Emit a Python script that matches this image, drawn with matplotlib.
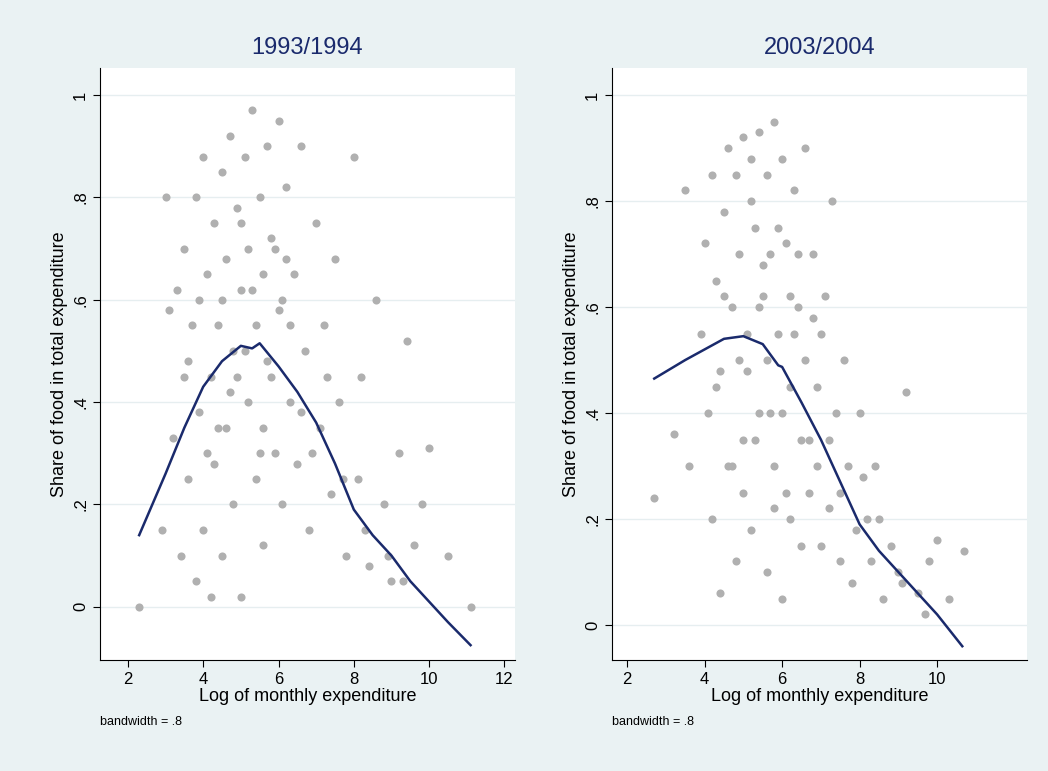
import matplotlib.pyplot as plt

plt.rcParams["font.family"] = ["Liberation Sans", "DejaVu Sans"]

# scatter points read by eye (representative sample of the cloud)
x93 = [2.3, 2.9, 3.0, 3.1, 3.2, 3.3, 3.4, 3.5, 3.5, 3.6, 3.7, 3.8, 3.8, 3.9, 4.0, 4.0, 4.1, 4.2, 4.2, 4.3,
       4.3, 4.4, 4.5, 4.5, 4.6, 4.6, 4.7, 4.8, 4.8, 4.9, 5.0, 5.0, 5.1, 5.2, 5.2, 5.3, 5.4, 5.4, 5.5, 5.6,
       5.6, 5.7, 5.8, 5.8, 5.9, 6.0, 6.0, 6.1, 6.2, 6.3, 6.4, 6.5, 6.6, 6.7, 6.8, 7.0, 7.1, 7.2, 7.4, 7.5,
       7.6, 7.8, 8.0, 8.1, 8.2, 8.4, 8.6, 8.8, 9.0, 9.2, 9.4, 9.6, 9.8, 10.0, 10.5, 11.1, 3.9, 4.4, 5.1, 5.7,
       6.3, 4.7, 5.3, 6.6, 7.3, 4.1, 5.5, 6.1, 3.6, 4.9, 5.9, 6.9, 7.7, 8.3, 8.9, 9.3, 4.5, 5.0, 5.6, 6.2]
y93 = [0.0, 0.15, 0.8, 0.58, 0.33, 0.62, 0.10, 0.45, 0.70, 0.25, 0.55, 0.80, 0.05, 0.38, 0.88, 0.15, 0.65, 0.45, 0.02, 0.75,
       0.28, 0.55, 0.85, 0.10, 0.68, 0.35, 0.92, 0.50, 0.20, 0.78, 0.62, 0.02, 0.88, 0.40, 0.70, 0.97, 0.55, 0.25, 0.80, 0.65,
       0.12, 0.90, 0.45, 0.72, 0.30, 0.95, 0.58, 0.20, 0.82, 0.40, 0.65, 0.28, 0.90, 0.50, 0.15, 0.75, 0.35, 0.55, 0.22, 0.68,
       0.40, 0.10, 0.88, 0.25, 0.45, 0.08, 0.60, 0.20, 0.05, 0.30, 0.52, 0.12, 0.20, 0.31, 0.10, 0.0, 0.60, 0.35, 0.50, 0.48,
       0.55, 0.42, 0.62, 0.38, 0.45, 0.30, 0.30, 0.60, 0.48, 0.45, 0.70, 0.30, 0.25, 0.15, 0.10, 0.05, 0.60, 0.75, 0.35, 0.68]
x04 = [2.7, 3.2, 3.5, 3.6, 3.9, 4.0, 4.1, 4.2, 4.2, 4.3, 4.4, 4.4, 4.5, 4.6, 4.6, 4.7, 4.8, 4.8, 4.9, 5.0,
       5.0, 5.1, 5.2, 5.2, 5.3, 5.4, 5.4, 5.5, 5.6, 5.6, 5.7, 5.8, 5.8, 5.9, 6.0, 6.0, 6.1, 6.2, 6.2, 6.3,
       6.4, 6.5, 6.6, 6.7, 6.8, 6.9, 7.0, 7.1, 7.2, 7.3, 7.5, 7.6, 7.8, 8.0, 8.2, 8.4, 8.6, 8.8, 9.0, 9.2,
       9.5, 9.8, 10.0, 10.3, 10.7, 4.5, 5.1, 5.7, 6.3, 6.9, 7.4, 4.9, 5.5, 6.1, 6.6, 7.7, 8.3, 5.3, 5.9, 6.5,
       4.3, 5.0, 5.6, 6.2, 6.8, 7.2, 7.9, 8.5, 9.1, 9.7, 4.7, 5.4, 6.0, 6.4, 7.0, 5.2, 5.8, 6.7, 7.5, 8.1]
y04 = [0.24, 0.36, 0.82, 0.30, 0.55, 0.72, 0.40, 0.85, 0.20, 0.65, 0.48, 0.06, 0.78, 0.90, 0.30, 0.60, 0.85, 0.12, 0.70, 0.92,
       0.35, 0.55, 0.88, 0.18, 0.75, 0.93, 0.40, 0.62, 0.85, 0.10, 0.70, 0.95, 0.30, 0.55, 0.88, 0.05, 0.72, 0.45, 0.20, 0.82,
       0.60, 0.35, 0.90, 0.25, 0.70, 0.45, 0.15, 0.62, 0.35, 0.80, 0.25, 0.50, 0.08, 0.40, 0.20, 0.30, 0.05, 0.15, 0.10, 0.44,
       0.06, 0.12, 0.16, 0.05, 0.14, 0.62, 0.48, 0.40, 0.55, 0.30, 0.40, 0.50, 0.68, 0.25, 0.50, 0.30, 0.12, 0.35, 0.75, 0.15,
       0.45, 0.25, 0.50, 0.62, 0.58, 0.22, 0.18, 0.20, 0.08, 0.02, 0.30, 0.60, 0.40, 0.70, 0.55, 0.80, 0.22, 0.35, 0.12, 0.28]

# lowess curves (bandwidth .8)
cx93 = [2.3, 3.0, 3.5, 4.0, 4.5, 5.0, 5.3, 5.5, 6.0, 6.5, 7.0, 7.5, 8.0, 8.5, 9.0, 9.5, 10.0, 10.5, 11.1]
cy93 = [0.14, 0.26, 0.35, 0.43, 0.48, 0.51, 0.505, 0.515, 0.47, 0.42, 0.36, 0.28, 0.19, 0.14, 0.10, 0.05, 0.01, -0.03, -0.075]
cx04 = [2.7, 3.5, 4.0, 4.5, 5.0, 5.5, 5.8, 5.9, 6.0, 6.5, 7.0, 7.5, 8.0, 8.5, 9.0, 9.5, 10.0, 10.65]
cy04 = [0.465, 0.50, 0.52, 0.54, 0.545, 0.53, 0.50, 0.49, 0.487, 0.42, 0.35, 0.27, 0.19, 0.14, 0.10, 0.06, 0.02, -0.04]

bg = "#eaf2f3"
fig = plt.figure(figsize=(10.48, 7.71), dpi=100, facecolor=bg)
W, H = 1048, 771

panels = [
    ("1993/1994", x93, y93, cx93, cy93, 100, (1.26, 12.28), (-0.104, 1.053), [2, 4, 6, 8, 10, 12]),
    ("2003/2004", x04, y04, cx04, cy04, 612, (1.61, 12.32), (-0.066, 1.051), [2, 4, 6, 8, 10]),
]
for title, xs, ys, cx, cy, left, xlim, ylim, xt in panels:
    ax = fig.add_axes([left / W, 1 - 660 / H, 415 / W, 592 / H])
    ax.set_facecolor("white")
    ax.scatter(xs, ys, s=34, color="#b0b0b0", linewidths=0, zorder=2)
    ax.plot(cx, cy, color="#1a2a6c", lw=1.8, zorder=3)
    ax.set_xlim(xlim)
    ax.set_ylim(ylim)
    ax.set_xticks(xt)
    ax.set_yticks([0, 0.2, 0.4, 0.6, 0.8, 1])
    ax.set_yticklabels(["0", ".2", ".4", ".6", ".8", "1"], rotation=90, va="center")
    ax.grid(axis="y", color="#e6eef0", lw=1, zorder=0)
    for s in ("top", "right"):
        ax.spines[s].set_visible(False)
    ax.tick_params(labelsize=12, length=5)
    ax.set_xlabel("Log of monthly expenditure", fontsize=13, labelpad=1)
    ax.set_ylabel("Share of food in total expenditure", fontsize=13)
    ax.set_title(title, fontsize=17, color="#1a2a6c", pad=10)
    ax.text(0.0, -0.11, "bandwidth = .8", transform=ax.transAxes, fontsize=9)

fig.savefig("out.png", dpi=100, facecolor=bg)
